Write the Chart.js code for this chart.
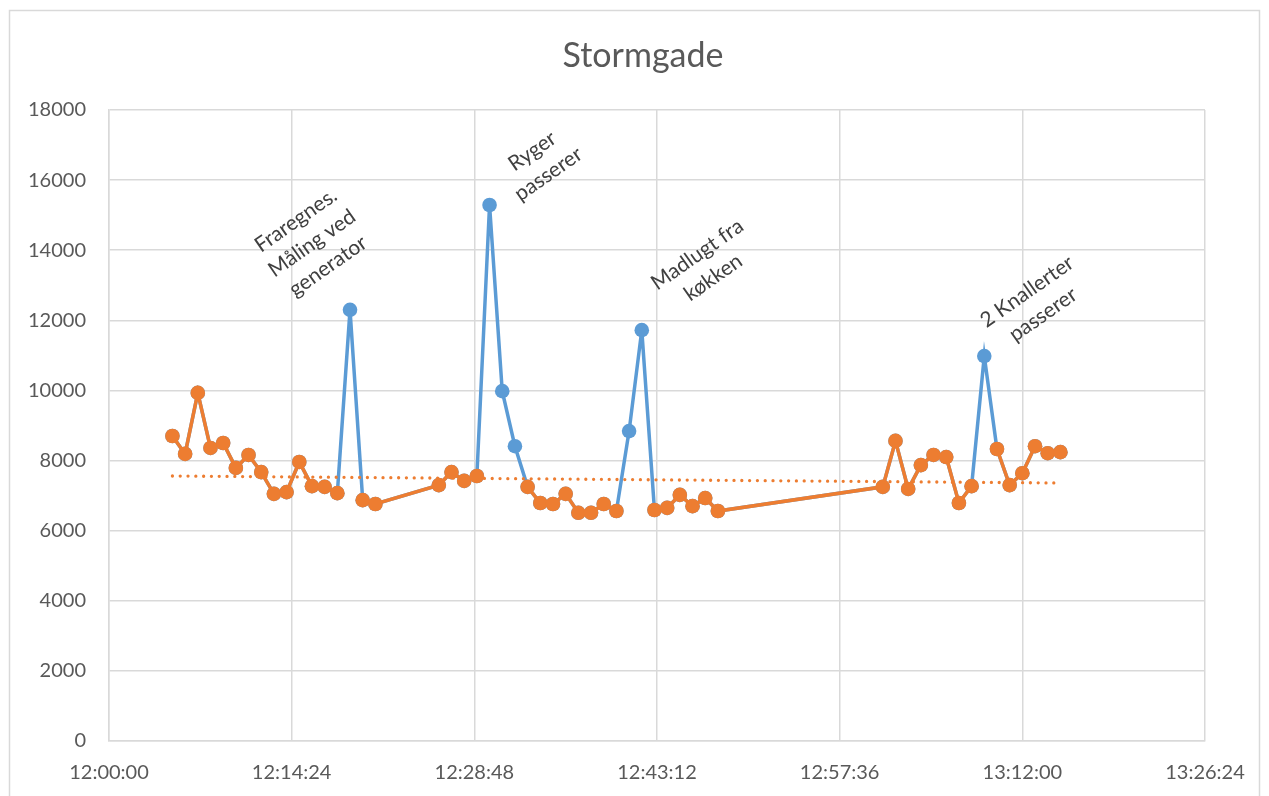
<!DOCTYPE html>
<html>
<head>
<meta charset="utf-8">
<script src="https://cdn.jsdelivr.net/npm/chart.js@4"></script>
<style>
  html, body { margin: 0; padding: 0; background: #fff; }
</style>
</head>
<body>
<canvas id="chart" width="1269" height="796"></canvas>
<script>
// målinger pr. minut
const tider = ['12:05', '12:06', '12:07', '12:08', '12:09', '12:10', '12:11', '12:12', '12:13', '12:14',
    '12:15', '12:16', '12:17', '12:18', '12:19', '12:20', '12:21',
    '12:26', '12:27', '12:28', '12:29', '12:30', '12:31', '12:32', '12:33', '12:34', '12:35', '12:36',
    '12:37', '12:38', '12:39', '12:40', '12:41', '12:42', '12:43', '12:44', '12:45', '12:46', '12:47', '12:48',
    '13:01', '13:02', '13:03', '13:04', '13:05', '13:06', '13:07', '13:08', '13:09', '13:10', '13:11',
    '13:12', '13:13', '13:14', '13:15'];
const maalinger = [8700, 8190, 9930, 8360, 8500, 7790, 8160, 7670, 7050, 7100,
    7960, 7270, 7250, 7070, 12300, 6870, 6760,
    7300, 7670, 7420, 7560, 15290, 9980, 8410, 7250, 6790, 6760, 7050,
    6510, 6510, 6760, 6560, 8840, 11720, 6590, 6650, 7020, 6700, 6930, 6560,
    7250, 8560, 7190, 7870, 8160, 8100, 6790, 7270, 10980, 8330, 7300,
    7640, 8410, 8210, 8240];
// målinger der er fraregnet (vises kun i den blå serie)
const spidser = ['12:19', '12:30', '12:31', '12:32', '12:41', '12:42', '13:09'];
// lineær tendenslinje, aflæst
const trendTider = ['12:05', '13:15'];
const trendVaerdier = [7560, 7360];

const noteTekster = [
    ['Fraregnes.', 'Måling ved', 'generator'],
    ['Ryger', 'passerer'],
    ['Madlugt fra', 'køkken'],
    ['2 Knallerter', 'passerer']
];
const noteTider = ['12:16', '12:34', '12:47', '13:13'];
const noteVaerdier = [14200, 16500, 13550, 12490];

const FONT = 'Lato';
const GRAA = '#595959';
const GITTER = '#d9d9d9';

function sek(t) {
    const [h, m] = t.split(':').map(Number);
    return h * 3600 + m * 60;
}

function tidTekst(s) {
    const h = Math.floor(s / 3600);
    const m = Math.floor((s % 3600) / 60);
    const ss = Math.round(s % 60);
    return h + ':' + String(m).padStart(2, '0') + ':' + String(ss).padStart(2, '0');
}

// hvid baggrund og ramme om hele diagrammet, samt titel
const ramme = {
    id: 'ramme',
    beforeDraw(chart) {
        const ctx = chart.ctx;
        ctx.save();
        ctx.fillStyle = '#fff';
        ctx.fillRect(0, 0, chart.width, chart.height);
        ctx.strokeStyle = GITTER;
        ctx.lineWidth = 1.5;
        ctx.strokeRect(9.5, 10.5, 1250, 800);
        ctx.fillStyle = GRAA;
        ctx.font = '34px ' + FONT;
        ctx.textAlign = 'center';
        ctx.textBaseline = 'middle';
        ctx.fillText('Stormgade', 643, 56);
        ctx.restore();
    }
};

// skrå kommentarer
const noter = {
    id: 'noter',
    afterDraw(chart) {
        const ctx = chart.ctx;
        const x = chart.scales.x, y = chart.scales.y;
        ctx.save();
        ctx.fillStyle = '#404040';
        ctx.font = '21px ' + FONT;
        ctx.textAlign = 'center';
        ctx.textBaseline = 'middle';
        noteTekster.forEach(function (linjer, i) {
            ctx.save();
            ctx.translate(x.getPixelForValue(sek(noteTider[i])), y.getPixelForValue(noteVaerdier[i]));
            ctx.rotate(-35 * Math.PI / 180);
            linjer.forEach(function (l, j) {
                ctx.fillText(l, 0, (j - (linjer.length - 1) / 2) * 28);
            });
            ctx.restore();
        });
        ctx.restore();
    }
};

document.addEventListener('DOMContentLoaded', function () {
    const alle = tider.map((t, i) => ({ x: sek(t), y: maalinger[i] }));
    const udenSpidser = tider.map((t, i) => ({ x: sek(t), y: spidser.includes(t) ? null : maalinger[i] }));
    const trend = trendTider.map((t, i) => ({ x: sek(t), y: trendVaerdier[i] }));

    const tickFont = { family: FONT, size: 20 };

    new Chart(document.getElementById('chart').getContext('2d'), {
        type: 'line',
        data: {
            datasets: [{
                label: 'Stormgade',
                data: udenSpidser,
                borderColor: '#ED7D31',
                backgroundColor: '#ED7D31',
                borderWidth: 3.5,
                pointRadius: 7.3,
                pointBorderWidth: 0,
                spanGaps: false,
                order: 0
            }, {
                label: 'Tendens',
                data: trend,
                borderColor: '#ED7D31',
                borderWidth: 3.3,
                borderDash: [0, 7.8],
                borderCapStyle: 'round',
                pointRadius: 0,
                order: 1
            }, {
                label: 'Alle',
                data: alle,
                borderColor: '#5B9BD5',
                backgroundColor: '#5B9BD5',
                borderWidth: 3.5,
                pointRadius: 7.3,
                pointBorderWidth: 0,
                order: 2
            }]
        },
        options: {
            responsive: false,
            animation: false,
            layout: { padding: { left: 0, right: 64, top: 110, bottom: 0 } },
            plugins: {
                legend: { display: false },
                tooltip: { enabled: false },
                title: { display: false }
            },
            scales: {
                x: {
                    type: 'linear',
                    min: sek('12:00'),
                    max: sek('12:00') + 6 * 864,
                    ticks: {
                        stepSize: 864,
                        callback: v => tidTekst(v),
                        font: tickFont,
                        color: GRAA,
                        padding: 20,
                        maxRotation: 0,
                        autoSkip: false
                    },
                    grid: { color: GITTER, lineWidth: 1.5, drawTicks: false },
                    border: { color: GITTER, width: 1.5 },
                    afterFit: s => { s.height = 55; }
                },
                y: {
                    min: 0,
                    max: 18000,
                    ticks: {
                        stepSize: 2000,
                        callback: v => String(v),
                        font: tickFont,
                        color: GRAA,
                        padding: 23
                    },
                    grid: { color: GITTER, lineWidth: 1.5, drawTicks: false },
                    border: { color: GITTER, width: 1.5 },
                    afterFit: s => { s.width = 109; }
                }
            }
        },
        plugins: [ramme, noter]
    });
});
</script>
</body>
</html>
